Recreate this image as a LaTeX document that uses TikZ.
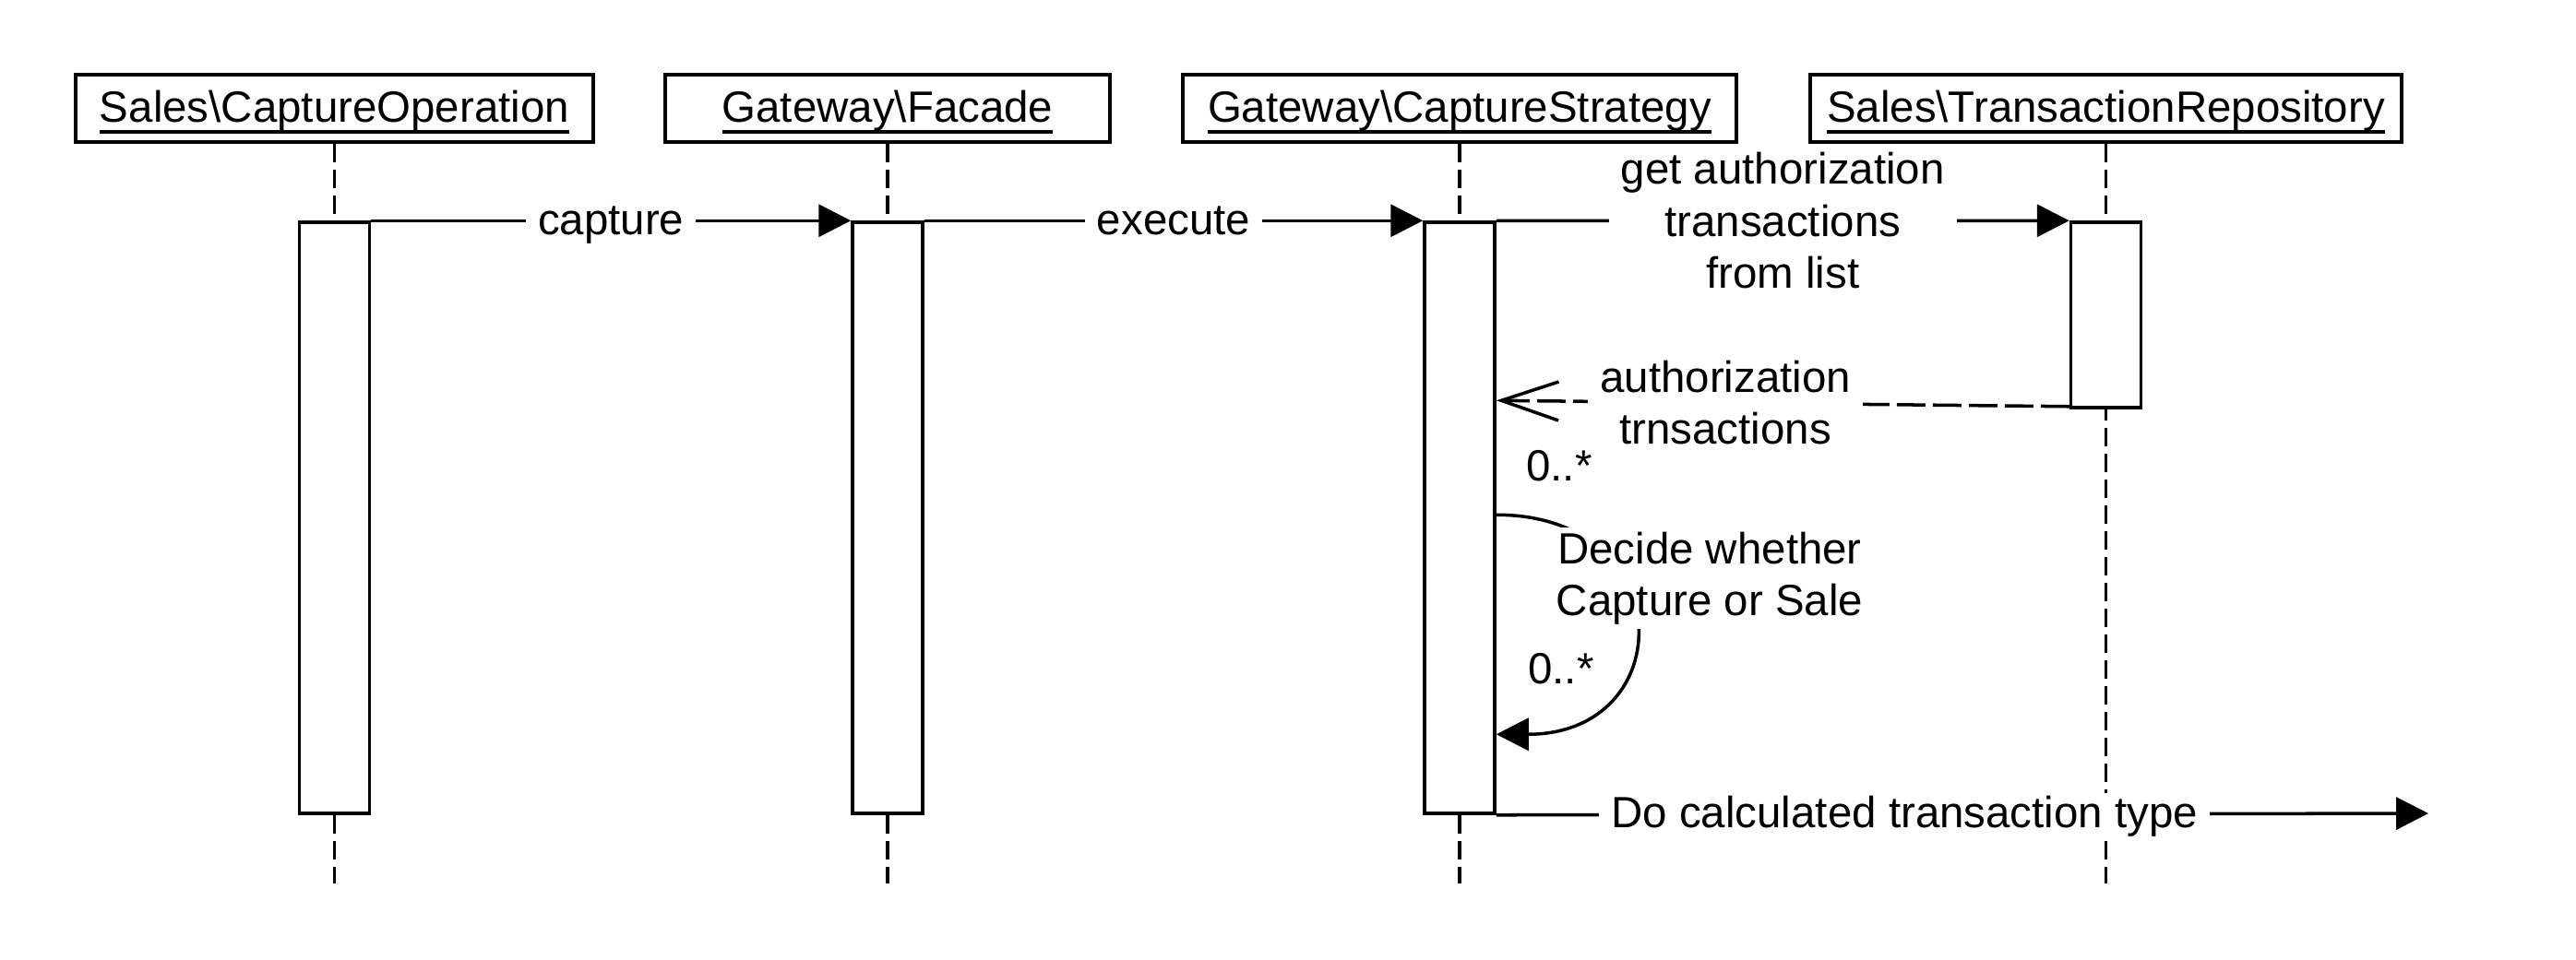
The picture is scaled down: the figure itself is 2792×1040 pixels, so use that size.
\documentclass[tikz,border=0pt]{standalone}
\usepackage{fontspec}
\setmainfont{Liberation Sans}
\usetikzlibrary{arrows.meta}
\usetikzlibrary{positioning}
\newcommand{\objname}[1]{\setbox0\hbox{#1}\rlap{\rule[-1.25mm]{\wd0}{0.33mm}}\box0}
\tikzset{
    object/.style={
        draw, line width=1pt,
        minimum height=7.3mm,
        text height=3.5mm, text depth=0.55mm,
        inner sep=0pt},
    activation/.style={
        draw, line width=1pt,
        fill=white,
        minimum width=7.6mm,
        inner sep=0pt},
    lifeline/.style={
        draw, line width=1pt,
        dash pattern=on 2mm off 0.8mm},
    msg/.style={
        fill=white,
        inner xsep=1.3mm, inner ysep=0.5mm,
        align=center},
    msgline/.style={
        msg,
        text height=0.95em, text depth=0.1em},
    every edge/.style={
        draw,
        -{Triangle[length=3.5mm,width=3.5mm]},
        line width=1pt},
    reply/.style={
        dash pattern=on 3.1mm off 0.8mm,
        -{Straight Barb[length=6.2mm,width=4.2mm]}}}

\begin{document}
\begin{tikzpicture}[x=0.1mm, y=-0.1mm, font=\fontsize{13.5}{16}\selectfont]
        \useasboundingbox (0,0) rectangle (2792,1040);
        \node[object, minimum width=56.1mm] (op) at (362.5,117.5) {\objname{Sales\textbackslash CaptureOperation}};
        \node[object, minimum width=48.2mm] (facade) at (962,117.5) {\objname{Gateway\textbackslash Facade}};
        \node[object, minimum width=60mm] (strategy) at (1582,117.5) {\objname{Gateway\textbackslash CaptureStrategy}};
        \node[object, minimum width=64.1mm] (repo) at (2282.5,117.5) {\objname{Sales\textbackslash TransactionRepository}};
        \coordinate (opend) at (362.5,958);
        \coordinate (facadeend) at (962,958);
        \coordinate (strategyend) at (1582,958);
        \coordinate (repoend) at (2282.5,958);
        \draw[lifeline] (op.south) -- (opend);
        \draw[lifeline] (facade.south) -- (facadeend);
        \draw[lifeline] (strategy.south) -- (strategyend);
        \draw[lifeline] (repo.south) -- (repoend);

        \node[activation, minimum height=64.1mm] (opbar) at (362.5,561.5) {};
        \node[activation, minimum height=64.1mm] (facadebar) at (962,561.5) {};
        \node[activation, minimum height=64.1mm] (strategybar) at (1582,561.5) {};
        \node[activation, minimum height=20.1mm] (repobar) at (2282.5,341.5) {};
        \coordinate (out) at (2632,882);

        \draw (opbar.north east) edge node[msgline] {capture} (facadebar.north west);
        \draw (facadebar.north east) edge node[msgline] {execute} (strategybar.north west);
        \draw (strategybar.north east) edge node[msg] {get authorization\\transactions\\from list} (repobar.north west);
        \draw ([yshift=0.3mm]repobar.south west) edge[reply] node[msg, pos=0.6] {authorization\\trnsactions} ([yshift=-19.5mm]strategybar.north east);
        \node (many1) at (1690,505) {0..*};
        %\draw (strategybar) edge[loop right] (strategybar);
        \draw[line width=1pt, -{Triangle[length=3.5mm,width=3.5mm]}] ([yshift=-31.9mm]strategybar.north east) .. controls +(20mm,0) and +(20mm,0) .. ([yshift=-55.7mm]strategybar.north east);
        \node[msg] (decide) at (1853,627) {Decide whether\\Capture or Sale};
        \node (many2) at (1692,725) {0..*};
        \draw (strategybar.south east) edge node[msgline, pos=0.438] {Do calculated transaction type} (out);
    \end{tikzpicture}
\end{document}
